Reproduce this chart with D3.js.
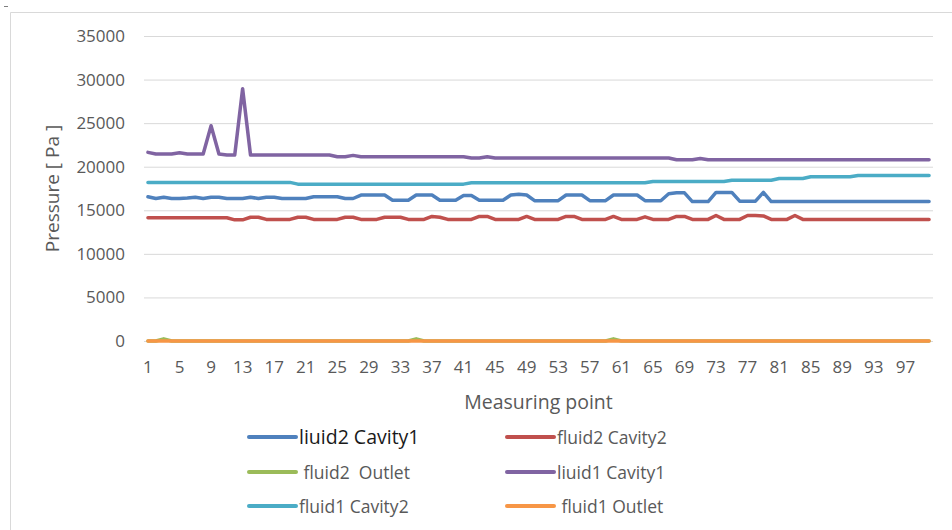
<!DOCTYPE html>
<html>
<head>
<meta charset="utf-8">
<script src="https://cdn.jsdelivr.net/npm/d3@7"></script>
<style>
  body { margin: 0; background: #fff; }
  text { font-family: "Open Sans", Lato, sans-serif; }
</style>
</head>
<body>
<div id="chart"></div>
<script>
// measuring points 1..100
var points = d3.range(1, 101);
var xTickLabels = d3.range(1, 101, 4);   // 1, 5, 9 ... 97
var yTicks = [0, 5000, 10000, 15000, 20000, 25000, 30000, 35000];

var liuid2Cavity1 = [
  16550,16350,16500,16350,16350,16400,16500,16350,16500,16500,
  16350,16350,16350,16500,16350,16500,16500,16350,16350,16350,
  16350,16550,16550,16550,16550,16350,16350,16750,16750,16750,
  16750,16150,16150,16150,16750,16750,16750,16150,16150,16150,
  16700,16700,16150,16150,16150,16150,16750,16850,16750,16100,
  16100,16100,16100,16750,16750,16750,16100,16100,16100,16750,
  16750,16750,16750,16100,16100,16100,16900,17000,17000,16000,
  16000,16000,17050,17050,17050,16050,16050,16050,17050,16000,
  16000,16000,16000,16000,16000,16000,16000,16000,16000,16000,
  16000,16000,16000,16000,16000,16000,16000,16000,16000,16000
];
var fluid2Cavity2 = [
  14150,14150,14150,14150,14150,14150,14150,14150,14150,14150,
  14150,13900,13900,14200,14200,13950,13950,13950,13950,14200,
  14200,13950,13950,13950,13950,14200,14200,13950,13950,13950,
  14200,14200,14200,13950,13950,13950,14300,14200,13950,13950,
  13950,13950,14300,14300,13950,13950,13950,13950,14300,13950,
  13950,13950,13950,14300,14300,13950,13950,13950,13950,14300,
  13950,13950,13950,14250,13950,13950,13950,14300,14300,13950,
  13950,13950,14400,13950,13950,13950,14400,14400,14350,13950,
  13950,13950,14400,13950,13950,13950,13950,13950,13950,13950,
  13950,13950,13950,13950,13950,13950,13950,13950,13950,13950
];
var fluid2Outlet = [
  0,0,250,0,0,0,0,0,0,0,
  0,0,0,0,0,0,0,0,0,0,
  0,0,0,0,0,0,0,0,0,0,
  0,0,0,0,250,0,0,0,0,0,
  0,0,0,0,0,0,0,0,0,0,
  0,0,0,0,0,0,0,0,0,250,
  0,0,0,0,0,0,0,0,0,0,
  0,0,0,0,0,0,0,0,0,0,
  0,0,0,0,0,0,0,0,0,0,
  0,0,0,0,0,0,0,0,0,0
];
var liuid1Cavity1 = [
  21650,21450,21450,21450,21600,21450,21450,21450,24700,21450,
  21350,21350,28950,21350,21350,21350,21350,21350,21350,21350,
  21350,21350,21350,21350,21150,21150,21300,21150,21150,21150,
  21150,21150,21150,21150,21150,21150,21150,21150,21150,21150,
  21150,21000,21000,21150,21000,21000,21000,21000,21000,21000,
  21000,21000,21000,21000,21000,21000,21000,21000,21000,21000,
  21000,21000,21000,21000,21000,21000,21000,20800,20800,20800,
  20950,20800,20800,20800,20800,20800,20800,20800,20800,20800,
  20800,20800,20800,20800,20800,20800,20800,20800,20800,20800,
  20800,20800,20800,20800,20800,20800,20800,20800,20800,20800
];
var fluid1Cavity2 = [
  18200,18200,18200,18200,18200,18200,18200,18200,18200,18200,
  18200,18200,18200,18200,18200,18200,18200,18200,18200,18000,
  18000,18000,18000,18000,18000,18000,18000,18000,18000,18000,
  18000,18000,18000,18000,18000,18000,18000,18000,18000,18000,
  18000,18150,18150,18150,18150,18150,18150,18150,18150,18150,
  18150,18150,18150,18150,18150,18150,18150,18150,18150,18150,
  18150,18150,18150,18150,18300,18300,18300,18300,18300,18300,
  18300,18300,18300,18300,18450,18450,18450,18450,18450,18450,
  18650,18650,18650,18650,18850,18850,18850,18850,18850,18850,
  19000,19000,19000,19000,19000,19000,19000,19000,19000,19000
];
var fluid1Outlet = points.map(function() { return 0; });

var seriesNames = ["liuid2 Cavity1", "fluid2 Cavity2", " fluid2  Outlet", "liuid1 Cavity1", "fluid1 Cavity2", " fluid1 Outlet"];
var seriesColors = ["#4f81bd", "#c0504d", "#9bbb59", "#8064a2", "#4bacc6", "#f79646"];
var seriesValues = [liuid2Cavity1, fluid2Cavity2, fluid2Outlet, liuid1Cavity1, fluid1Cavity2, fluid1Outlet];

var W = 952, H = 530;
var plot = {left: 144, right: 933, top: 36, bottom: 341};

var svg = d3.select("#chart").append("svg")
  .attr("width", W)
  .attr("height", H);

// chart frame (only the top and left edges are in the picture)
svg.append("path")
  .attr("d", "M10.5,530 V12.5 H952")
  .attr("fill", "none")
  .attr("stroke", "#d9d9d9");
svg.append("line")
  .attr("x1", 4).attr("x2", 8).attr("y1", 6.5).attr("y2", 6.5)
  .attr("stroke", "#7f7f7f");

var x = d3.scaleBand()
  .domain(points)
  .range([plot.left, plot.right])
  .padding(0);
var y = d3.scaleLinear()
  .domain([0, 35000])
  .range([plot.bottom, plot.top]);

var cx = function(d) { return x(d) + x.bandwidth() / 2; };

// gridlines + y axis
var yAxis = svg.append("g")
  .attr("transform", "translate(" + plot.left + ",0)")
  .call(d3.axisLeft(y).tickValues(yTicks).tickFormat(d3.format("d"))
    .tickSize(-(plot.right - plot.left)).tickPadding(19));
yAxis.select(".domain").remove();
yAxis.selectAll(".tick line").attr("stroke", "#d9d9d9");
yAxis.selectAll(".tick text")
  .attr("fill", "#595959")
  .style("font-size", "17px");

// x axis labels
var xAxis = svg.append("g")
  .attr("transform", "translate(0," + plot.bottom + ")")
  .call(d3.axisBottom(x).tickValues(xTickLabels).tickSize(0).tickPadding(20));
xAxis.select(".domain").remove();
xAxis.selectAll(".tick text")
  .attr("fill", "#595959")
  .style("font-size", "17px");

// axis titles
svg.append("text")
  .attr("x", (plot.left + plot.right) / 2)
  .attr("y", 409)
  .attr("text-anchor", "middle")
  .attr("fill", "#595959")
  .style("font-size", "19.5px")
  .text("Measuring point");

svg.append("text")
  .attr("transform", "translate(59," + ((plot.top + plot.bottom) / 2) + ") rotate(-90)")
  .attr("text-anchor", "middle")
  .attr("fill", "#595959")
  .style("font-size", "19px")
  .text("Pressure [ Pa ]");

// lines
var line = d3.line()
  .x(function(d, i) { return cx(points[i]); })
  .y(function(d) { return y(d); });

svg.append("g")
  .selectAll("path")
  .data(seriesValues)
  .enter()
  .append("path")
    .attr("d", function(d) { return line(d); })
    .attr("fill", "none")
    .attr("stroke", function(d, i) { return seriesColors[i]; })
    .attr("stroke-width", 3.5)
    .attr("stroke-linejoin", "round")
    .attr("stroke-linecap", "round");

// legend, 2 columns x 3 rows
var legendCols = [249, 507];
var legendRows = [437, 472, 506];
var legend = svg.append("g")
  .selectAll("g")
  .data(seriesNames)
  .enter()
  .append("g")
    .attr("transform", function(d, i) {
      return "translate(" + legendCols[i % 2] + "," + legendRows[Math.floor(i / 2)] + ")";
    });

legend.append("line")
  .attr("x1", 0).attr("x2", 47)
  .attr("y1", 0).attr("y2", 0)
  .attr("stroke", function(d, i) { return seriesColors[i]; })
  .attr("stroke-width", 4)
  .attr("stroke-linecap", "round");

legend.append("text")
  .attr("x", 50)
  .attr("y", 6.5)
  .attr("fill", function(d, i) { return i === 0 ? "#1a1a1a" : "#595959"; })
  .style("font-size", function(d, i) { return i === 0 ? "19.5px" : "17.5px"; })
  .style("white-space", "pre")
  .text(function(d) { return d; });
</script>
</body>
</html>
